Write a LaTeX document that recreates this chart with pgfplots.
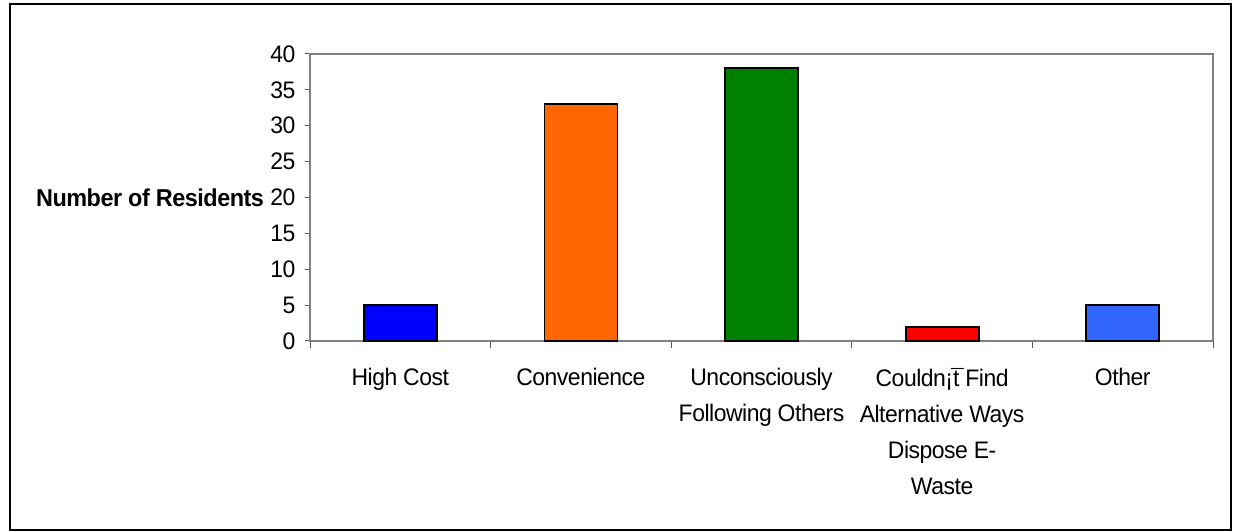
\documentclass[border=0pt]{standalone}
\usepackage{fontspec}
\setmainfont[FakeStretch=0.96, LetterSpace=-2]{Liberation Sans}
\usepackage{pgfplots}
\pgfplotsset{compat=1.18}

\definecolor{barblue}{HTML}{0000FF}
\definecolor{barorange}{HTML}{FF6600}
\definecolor{bargreen}{HTML}{008000}
\definecolor{barred}{HTML}{FF0000}
\definecolor{barsky}{HTML}{3366FF}

\begin{document}
\begin{tikzpicture}[x=1bp,y=1bp]
\useasboundingbox (0,0) rectangle (1235,531);
% chart frame
\draw[black, line width=1.2bp] (10,1) rectangle (1231,527);
\begin{axis}[
  at={(310bp,190bp)}, anchor=south west,
  scale only axis, width=903bp, height=287bp,
  xmin=-0.5, xmax=4.5, ymin=0, ymax=40,
  ytick={0,5,...,40},
  xtick={0,...,4},
  xticklabels={High Cost, Convenience, Unconsciously\\Following Others, Couldn¡\rlap{\kern-0.08em ¯}t Find\\Alternative Ways\\Dispose E-\\Waste, Other},
  minor xtick={-0.5,0.5,...,4.5},
  major x tick style={draw=none},
  minor tick length=7bp,
  major tick length=5bp,
  tick align=outside,
  tick pos=left,
  tick style={black!65, line width=1bp},
  axis line style={black!50, line width=1.6bp},
  ticklabel style={font=\fontsize{24}{36}\selectfont},
  xticklabel style={align=center, yshift=-19bp},
  yticklabel style={xshift=-6bp},
  /pgf/number format/assume math mode=true,
  ylabel={\textbf{Number of Residents}},
  every axis y label/.style={at={(rel axis cs:0,0.5)}, anchor=east, xshift=-43bp,
    font=\fontsize{24.5}{28}\selectfont},
  clip=false,
]
\addplot[ybar, bar shift=0pt, bar width=73bp, fill=barblue, draw=black, line width=1.8bp] coordinates {(0,5)};
\addplot[ybar, bar shift=0pt, bar width=73bp, fill=barorange, draw=black, line width=1.8bp] coordinates {(1,33)};
\addplot[ybar, bar shift=0pt, bar width=73bp, fill=bargreen, draw=black, line width=1.8bp] coordinates {(2,38)};
\addplot[ybar, bar shift=0pt, bar width=73bp, fill=barred, draw=black, line width=1.8bp] coordinates {(3,2)};
\addplot[ybar, bar shift=0pt, bar width=73bp, fill=barsky, draw=black, line width=1.8bp] coordinates {(4,5)};
\end{axis}
\end{tikzpicture}
\end{document}
